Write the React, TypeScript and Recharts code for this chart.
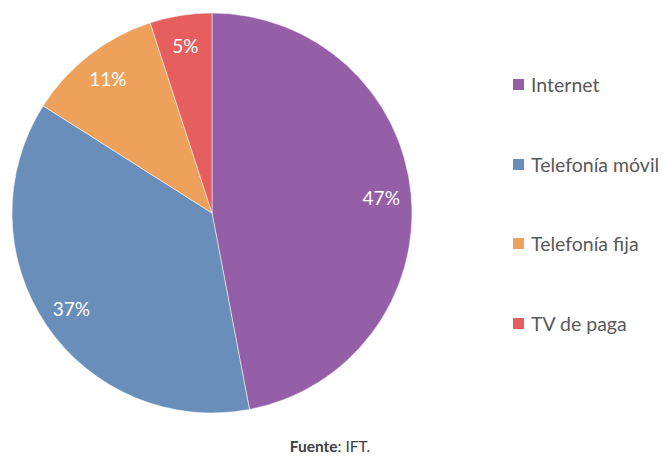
import { PieChart, Pie, Cell, Legend } from 'recharts';

const categories = ['Internet', 'Telefonía móvil', 'Telefonía fija', 'TV de paga'];
const shares = [47, 37, 11, 5];
const colors = ['#955FA7', '#6A8EBA', '#EDA15A', '#E65F5E'];

const data = categories.map((name, i) => ({ name, value: shares[i] }));

const RAD = Math.PI / 180;

const renderLabel = (props: any) => {
    const { cx, cy, midAngle, outerRadius, value } = props;
    const r = outerRadius * 0.85;
    const x = cx + r * Math.cos(-midAngle * RAD);
    const y = cy + r * Math.sin(-midAngle * RAD);
    return (
        <text x={x} y={y} fill="#fff" fontSize={19} textAnchor="middle" dominantBaseline="central" fontFamily="Lato">
            {value}%
        </text>
    );
};

const renderLegend = () => (
    <div style={{ fontFamily: 'Lato', fontSize: 19.5, color: '#595959', whiteSpace: 'nowrap' }}>
        {categories.map((c, i) => (
            <div key={c} style={{ display: 'flex', alignItems: 'center', height: 79.5 }}>
                <span style={{ width: 11, height: 11, background: colors[i], marginRight: 7, display: 'inline-block' }} />
                <span>{c}</span>
            </div>
        ))}
    </div>
);

export default function App() {
    return (
        <div style={{ position: 'fixed', left: 0, top: 0, width: 663, height: 458, background: '#fff', overflow: 'visible' }}>
            <PieChart width={663} height={458} margin={{ top: 0, right: 0, left: 0, bottom: 0 }}>
                <Pie
                    data={data}
                    dataKey="value"
                    cx={212}
                    cy={213}
                    outerRadius={200}
                    startAngle={90}
                    endAngle={-270}
                    stroke="#fff"
                    strokeWidth={0.5}
                    label={renderLabel}
                    labelLine={false}
                    isAnimationActive={false}
                >
                    {data.map((d, i) => (
                        <Cell key={d.name} fill={colors[i]} />
                    ))}
                </Pie>
                <Legend content={renderLegend} wrapperStyle={{ left: 513, top: 45, width: 150 }} />
            </PieChart>
            <div style={{ position: 'absolute', left: 0, width: 660, top: 437, textAlign: 'center', fontFamily: 'Lato', fontSize: 15.5, color: '#404040' }}>
                <b>Fuente</b>: IFT.
            </div>
        </div>
    );
}
